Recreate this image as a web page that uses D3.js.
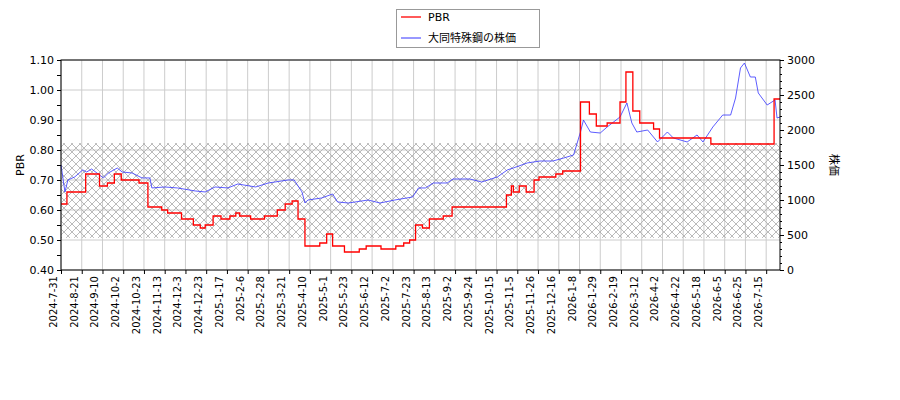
<!DOCTYPE html><html><head><meta charset="utf-8">
<script src="https://cdn.jsdelivr.net/npm/d3@7"></script>
<style>body{margin:0;background:#fff}text{font-family:"DejaVu Sans";font-size:11px}</style></head><body>
<svg id="c" width="900" height="400"></svg>
<script>
const tickLabels = ["2024-7-31","2024-8-21","2024-9-10","2024-10-2","2024-10-23","2024-11-13","2024-12-3","2024-12-23","2025-1-17","2025-2-6","2025-2-28","2025-3-21","2025-4-10","2025-5-1","2025-5-23","2025-6-12","2025-7-2","2025-7-23","2025-8-13","2025-9-2","2025-9-24","2025-10-15","2025-11-5","2025-11-26","2025-12-16","2026-1-8","2026-1-29","2026-2-19","2026-3-12","2026-4-2","2026-4-22","2026-5-18","2026-6-5","2026-6-25","2026-7-15"];
// positions along the (trading-session) axis, 0..728
const pbrPos = [0,6,25,39,47,54,61,79,88,98,102,108,122,134,141,146,154,162,171,177,181,192,206,219,227,234,240,247,262,269,275,287,302,309,324,339,347,353,359,366,373,387,396,451,456,458,464,471,479,484,501,508,526,535,542,553,566,572,579,586,600,606,658,722,728];
const pbrVals = [0.62,0.66,0.72,0.68,0.69,0.72,0.70,0.69,0.61,0.61,0.60,0.59,0.57,0.55,0.54,0.55,0.58,0.57,0.58,0.59,0.58,0.57,0.58,0.60,0.62,0.63,0.57,0.48,0.49,0.52,0.48,0.46,0.47,0.48,0.47,0.48,0.49,0.50,0.55,0.54,0.57,0.58,0.61,0.65,0.68,0.66,0.68,0.66,0.70,0.71,0.72,0.73,0.96,0.92,0.88,0.89,0.96,1.06,0.93,0.89,0.87,0.84,0.82,0.97,0.97];
const pricePos = [0,4,7,14,22,26,31,43,48,57,62,72,82,90,92,105,118,136,146,156,169,179,197,210,230,236,244,247,250,264,275,280,291,311,323,338,356,362,369,377,391,397,414,426,442,452,458,472,485,498,509,519,526,529,536,546,553,566,573,578,583,594,604,614,620,634,644,650,660,670,678,683,688,692,698,703,706,715,723,725,728];
const priceVals = [1500,1115,1286,1330,1430,1400,1443,1315,1386,1457,1400,1386,1315,1315,1172,1186,1172,1129,1115,1186,1172,1229,1186,1243,1286,1286,1115,957,1000,1029,1086,972,957,1000,957,1000,1043,1172,1172,1243,1243,1300,1300,1257,1330,1430,1457,1529,1557,1557,1600,1643,1971,2143,1971,1957,2043,2186,2386,2100,1971,2000,1829,1971,1886,1829,1929,1829,2043,2214,2214,2457,2886,2957,2757,2757,2529,2357,2429,2171,2186];
const leftTicks=[0.40,0.50,0.60,0.70,0.80,0.90,1.00,1.10];
const rightTicks=[0,500,1000,1500,2000,2500,3000];
const bandRange=[0.507,0.823];

const svg=d3.select("#c");
const L=61,R=780,T=60,B=270;
const x=d3.scaleLinear().domain([0,728]).range([L,R]);
const tickPos=tickLabels.map((_,i)=>i*21.0);
const y=d3.scaleLinear().domain([0.4,1.1]).range([B,T]);
const y2=d3.scaleLinear().domain([0,3000]).range([B,T]);
const defs=svg.append("defs");
const p=defs.append("pattern").attr("id","h").attr("width",8).attr("height",8).attr("patternUnits","userSpaceOnUse");
p.append("path").attr("d","M0,0L8,8M8,0L0,8").attr("stroke","#aaa").attr("stroke-width",0.8);
svg.append("g").selectAll("line").data(tickPos).join("line").attr("x1",d=>x(d)).attr("x2",d=>x(d)).attr("y1",T).attr("y2",B).attr("stroke","#ccc");
svg.append("g").selectAll("line").data(leftTicks).join("line").attr("x1",L).attr("x2",R).attr("y1",d=>y(d)).attr("y2",d=>y(d)).attr("stroke","#ccc");
svg.append("rect").attr("x",L).attr("width",R-L).attr("y",y(bandRange[1])).attr("height",y(bandRange[0])-y(bandRange[1])).attr("fill","url(#h)");
svg.append("path").attr("fill","none").attr("stroke","#3333ff").attr("stroke-width",0.8)
 .attr("d",d3.line().x(i=>x(pricePos[i])).y(i=>y2(priceVals[i]))(d3.range(priceVals.length)));
svg.append("path").attr("fill","none").attr("stroke","red").attr("stroke-width",1.3)
 .attr("d",d3.line().curve(d3.curveStepAfter).x(i=>x(pbrPos[i])).y(i=>y(pbrVals[i]))(d3.range(pbrVals.length)));
svg.append("rect").attr("x",L).attr("y",T).attr("width",R-L).attr("height",B-T).attr("fill","none").attr("stroke","#000");
const ax=svg.append("g").attr("transform",`translate(0,${B})`).call(d3.axisBottom(x).tickValues(tickPos).tickFormat((d,i)=>tickLabels[i]).tickSize(4));
ax.select(".domain").remove();
ax.selectAll("text").attr("transform","rotate(-90)").attr("text-anchor","end").attr("dx","-6").attr("dy","-0.45em").attr("x",0).attr("y",0).style("font-size","10px");
const al=svg.append("g").attr("transform",`translate(${L},0)`).call(d3.axisLeft(y).tickValues(d3.range(0.4,1.1001,0.05)).tickFormat(d=>Math.round(d*100)%10===0?d.toFixed(2):"").tickSize(4));
al.select(".domain").remove();
const ar=svg.append("g").attr("transform",`translate(${R},0)`).call(d3.axisRight(y2).tickValues(d3.range(0,3001,100)).tickFormat(d=>d%500===0?d:"").tickSize(4));
ar.select(".domain").remove();
ar.selectAll(".tick").filter(d=>d%500!==0).select("line").attr("x2",2);
svg.selectAll(".tick text").style("font-family","DejaVu Sans");
svg.append("text").attr("transform","translate(24,165) rotate(-90)").attr("text-anchor","middle").text("PBR");
svg.append("text").attr("transform","translate(830,165) rotate(90)").attr("text-anchor","middle").text("株価").style("font-family","Noto Sans CJK JP");
const lg=svg.append("g");
lg.append("rect").attr("x",396.5).attr("y",9.5).attr("width",143).attr("height",38).attr("fill","#fff").attr("stroke","#999");
lg.append("line").attr("x1",401).attr("x2",421).attr("y1",17).attr("y2",17).attr("stroke","red").attr("stroke-width",1.3);
lg.append("line").attr("x1",401).attr("x2",421).attr("y1",38).attr("y2",38).attr("stroke","#3333ff");
lg.append("text").attr("x",428).attr("y",21).text("PBR");
lg.append("text").attr("x",428).attr("y",42).text("大同特殊鋼の株価").style("font-family","Noto Sans CJK JP");
</script></body></html>
